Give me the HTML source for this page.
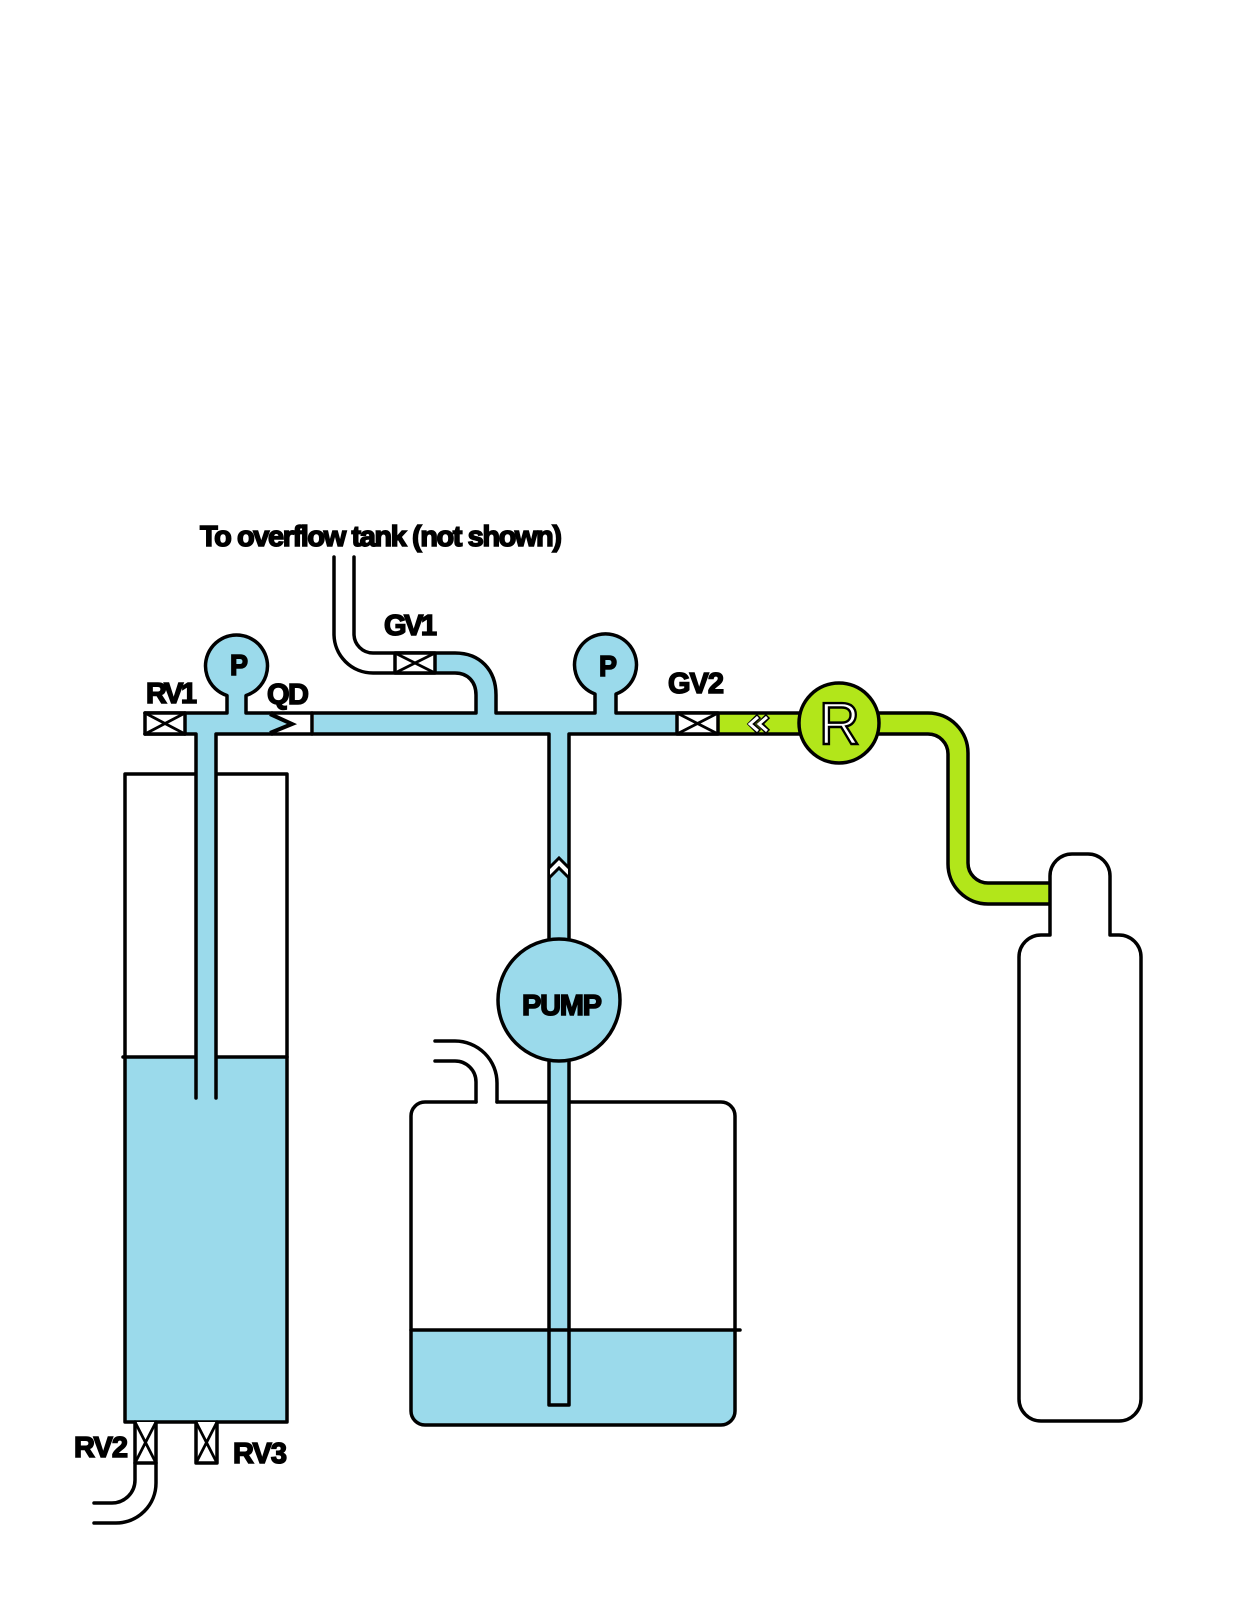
<!DOCTYPE html>
<html><head><meta charset="utf-8"><style>
html,body{margin:0;padding:0;background:#fff}
svg{display:block}
text{font-family:"Liberation Sans",sans-serif;font-weight:700;fill:#000;stroke:#000;stroke-width:1.5px;font-size:29px}
.l{fill:none;stroke:#000;stroke-width:3.5;stroke-linecap:round;stroke-linejoin:round}
.x{fill:none;stroke:#000;stroke-width:2.8}
</style></head><body>
<svg width="1237" height="1600" viewBox="0 0 1237 1600" xmlns="http://www.w3.org/2000/svg">
<rect width="1237" height="1600" fill="#fff"/>
<!-- left tank -->
<rect x="125" y="1057" width="162" height="365" fill="#9bdaeb"/>
<path class="l" d="M125 774H287V1422H125Z"/>
<path class="l" d="M123 1057H287"/>
<!-- blue fills -->
<path fill="#9bdaeb" d="M185 713H227V695.5A31 31 0 1 1 246 695.5V713H272L293 724L272 734H216V1098H196V734H185Z"/>
<path fill="#9bdaeb" d="M314 713H476V695C476 682 468 673 455 673H435V653H455C480 653 496 670 496 695V713H595V694A31 31 0 1 1 616 694V713H677V734H569V938H549V734H314Z"/>
<path fill="#b2e61a" d="M718 713H928A40 40 0 0 1 968 753V863A20 20 0 0 0 988 883H1049V904H988A40 40 0 0 1 948 864V754A20 20 0 0 0 928 734H718Z"/>
<!-- water tank -->
<path d="M411 1330H735V1411A14 14 0 0 1 721 1425H425A14 14 0 0 1 411 1411Z" fill="#9bdaeb"/>
<path class="l" d="M497 1102H721A14 14 0 0 1 735 1116V1411A14 14 0 0 1 721 1425H425A14 14 0 0 1 411 1411V1116A14 14 0 0 1 425 1102H476"/>
<path class="l" d="M411 1330H740"/>
<path class="l" d="M435 1041H455A42 42 0 0 1 497 1083V1102M435 1061H455A21 21 0 0 1 476 1082V1102"/>
<rect x="549" y="1050" width="20" height="355" fill="#9bdaeb"/>
<path class="l" d="M549 1050V1405H569V1050"/>
<path class="l" d="M549 1330H569"/>
<!-- pipe outlines -->
<path class="l" d="M145 713H227V695.5A31 31 0 1 1 246 695.5V713H272M272 734H216V1098M196 1098V734H145"/>
<path class="l" d="M272 713H476V695C476 682 468 673 455 673H373A39 39 0 0 1 334 634V557M354 557V634A19 19 0 0 0 373 653H455C480 653 496 670 496 695V713H595V694A31 31 0 1 1 616 694V713H928A40 40 0 0 1 968 753V863A20 20 0 0 0 988 883H1049M1049 904H988A40 40 0 0 1 948 864V754A20 20 0 0 0 928 734H569V938M549 938V734H272"/>
<path class="l" d="M312 713V734"/>
<!-- QD chevron -->
<path fill="none" stroke="#000" stroke-width="4" d="M270 714L292 724L270 733"/>
<!-- valves -->
<g>
<rect x="145" y="713" width="40" height="21" fill="#fff"/><path class="l" d="M145 713V734M185 713V734"/><path class="x" d="M145 713L185 734M185 713L145 734"/><path class="l" d="M145 713H185M145 734H185"/>
<rect x="395" y="653" width="40" height="20" fill="#fff"/><path class="l" d="M395 653V673M435 653V673M395 653H435M395 673H435"/><path class="x" d="M395 653L435 673M435 653L395 673"/>
<rect x="677" y="713" width="41" height="21" fill="#fff"/><path class="l" d="M677 713V734M718 713V734M677 713H718M677 734H718"/><path class="x" d="M677 713L718 734M718 713L677 734"/>
<rect x="135" y="1422" width="21" height="41" fill="#fff"/><path class="l" d="M135 1422V1463H156V1422"/><path class="x" d="M135 1422L156 1463M156 1422L135 1463"/>
<rect x="196" y="1422" width="21" height="41" fill="#fff"/><path class="l" d="M196 1422V1463H217V1422"/><path class="x" d="M196 1422L217 1463M217 1422L196 1463"/>
</g>
<path class="l" d="M135 1463V1480A23 23 0 0 1 112 1503H94M156 1463V1483A40 40 0 0 1 116 1523H94"/>
<!-- vertical chevron -->
<path fill="#fff" d="M550 867L559 857L568 867V877L559 868L550 877Z"/>
<path fill="none" stroke="#000" stroke-width="3" d="M549 868L559 858L569 868M549 878L559 868L569 878"/>
<!-- horizontal chevron -->
<path fill="none" stroke="#000" stroke-width="6" d="M759 716L751 724L759 732M768 716L760 724L768 732"/>
<path fill="none" stroke="#fff" stroke-width="3" d="M758 717L750 724L758 731M767 717L759 724L767 731"/>
<!-- cylinder -->
<path class="l" fill="#fff" d="M1050 935V876A22 22 0 0 1 1072 854H1088A22 22 0 0 1 1110 876V935H1119A22 22 0 0 1 1141 957V1399A22 22 0 0 1 1119 1421H1041A22 22 0 0 1 1019 1399V957A22 22 0 0 1 1041 935Z"/>
<!-- pump & regulator -->
<circle cx="559" cy="1000" r="61" fill="#9bdaeb" stroke="#000" stroke-width="3.5"/>
<circle cx="839" cy="723" r="40" fill="#b2e61a" stroke="#000" stroke-width="3.5"/>
<text x="819" y="744" style="font-size:59px;font-weight:400;fill:#fff;stroke:#000;stroke-width:2.4px" textLength="41" lengthAdjust="spacingAndGlyphs">R</text>
<!-- labels -->
<text x="200" y="546" textLength="362" lengthAdjust="spacing">To overflow tank (not shown)</text>
<text x="384" y="635" textLength="53" lengthAdjust="spacing">GV1</text>
<text x="668" y="693" textLength="56" lengthAdjust="spacing">GV2</text>
<text x="146" y="703" textLength="51" lengthAdjust="spacing">RV1</text>
<text x="267" y="704" textLength="42" lengthAdjust="spacing">QD</text>
<text x="74" y="1457" textLength="54" lengthAdjust="spacing">RV2</text>
<text x="233" y="1463" textLength="54" lengthAdjust="spacing">RV3</text>
<text x="230" y="675" textLength="18" lengthAdjust="spacingAndGlyphs">P</text>
<text x="599" y="676" textLength="18" lengthAdjust="spacingAndGlyphs">P</text>
<text x="522" y="1015" textLength="80" lengthAdjust="spacing">PUMP</text>
</svg>
</body></html>
